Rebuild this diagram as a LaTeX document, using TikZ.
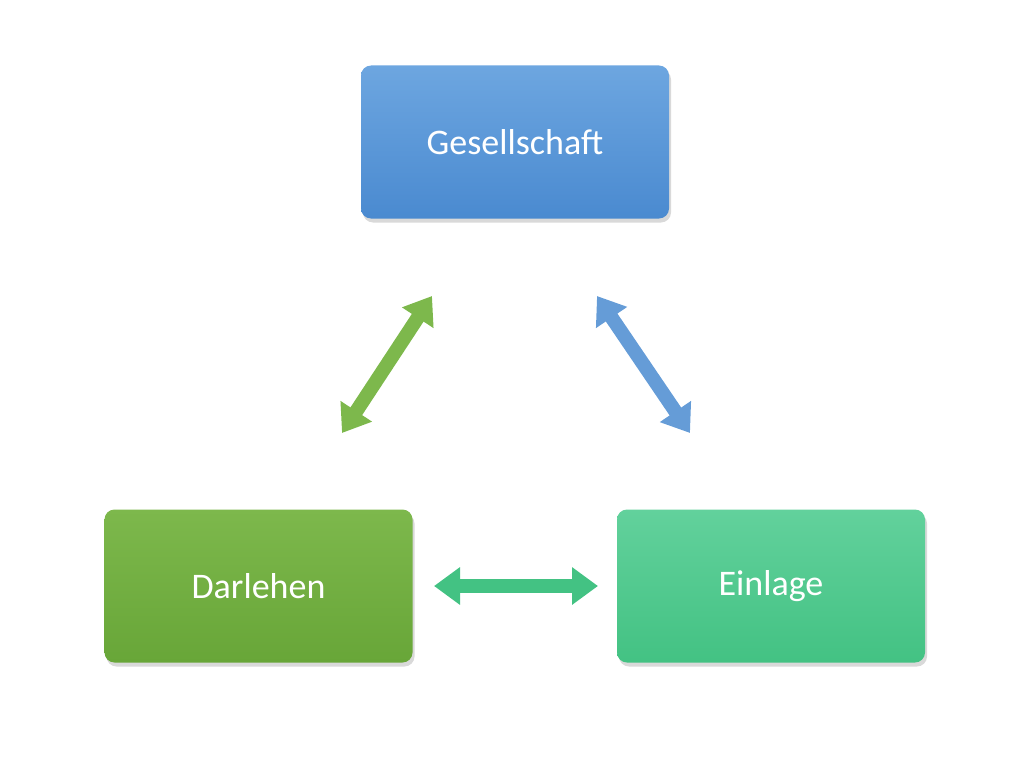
\documentclass[tikz,border=0pt]{standalone}
\usepackage{fontspec}
\setmainfont{Carlito}
\usetikzlibrary{arrows.meta,shadows}
\definecolor{bt}{HTML}{6DA6E0}\definecolor{bb}{HTML}{4A8AD0}
\definecolor{gt}{HTML}{7DB84C}\definecolor{gb}{HTML}{68A638}
\definecolor{tt}{HTML}{62D19C}\definecolor{tb}{HTML}{43C283}
\begin{document}
\begin{tikzpicture}[x=1pt,y=-1pt,
 box/.style={rounded corners=10pt,minimum width=308pt,minimum height=153pt,
   text=white,font=\fontsize{36}{40}\selectfont,
   drop shadow={shadow xshift=2pt,shadow yshift=-4pt,opacity=0.3}},
 dbl/.style={line width=14pt,{Triangle[width=36pt,length=26pt]}-{Triangle[width=36pt,length=26pt]}}]
\useasboundingbox (0,0) rectangle (1030,765);
\node[box,top color=bt,bottom color=bb] (g) at (515,142) {Gesellschaft};
\node[box,top color=gt,bottom color=gb] (d) at (258.5,586) {Darlehen};
\node[box,top color=tt,bottom color=tb] (e) at (771,586) {Einlage};
\coordinate (a1) at (432,296); \coordinate (a2) at (342,433);
\coordinate (b1) at (597,296); \coordinate (b2) at (690,433);
\coordinate (c1) at (434,586); \coordinate (c2) at (598,586);
\draw[dbl,draw=gt,fill=gt] (a1) -- (a2);
\draw[dbl,draw=bb!85!white,fill=bb!85!white] (b1) -- (b2);
\draw[dbl,draw=tb,fill=tb] (c1) -- (c2);
\end{tikzpicture}
\end{document}
